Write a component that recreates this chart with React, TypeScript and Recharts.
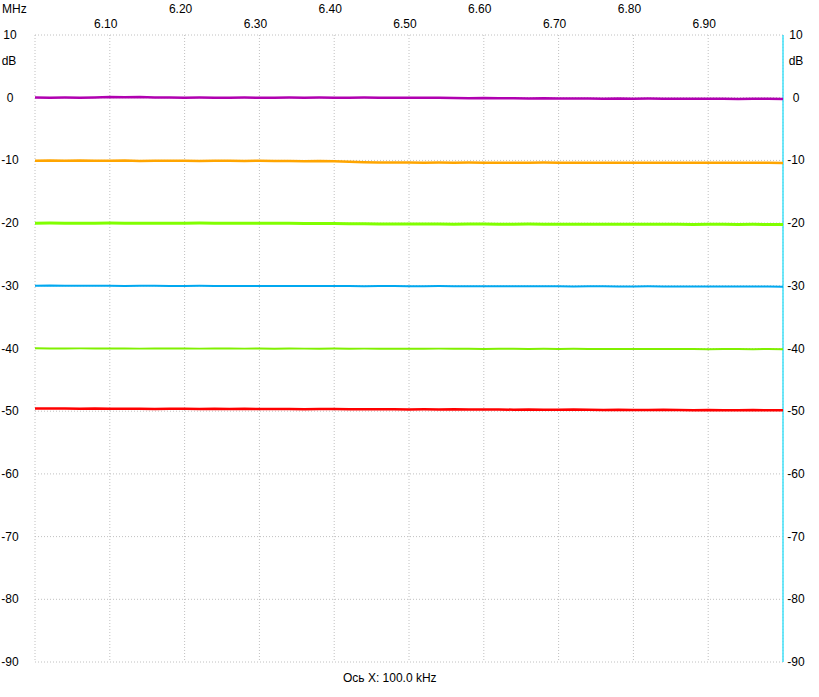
import React from "react"
import { LineChart, Line, XAxis, YAxis, CartesianGrid, ReferenceLine, Customized } from "recharts"

// frequency points, MHz
const FREQS = [
  6.00, 6.02, 6.04, 6.06, 6.08, 6.10, 6.12, 6.14, 6.16, 6.18,
  6.20, 6.22, 6.24, 6.26, 6.28, 6.30, 6.32, 6.34, 6.36, 6.38,
  6.40, 6.42, 6.44, 6.46, 6.48, 6.50, 6.52, 6.54, 6.56, 6.58,
  6.60, 6.62, 6.64, 6.66, 6.68, 6.70, 6.72, 6.74, 6.76, 6.78,
  6.80, 6.82, 6.84, 6.86, 6.88, 6.90, 6.92, 6.94, 6.96, 6.98, 7.00,
]

const TRACE_0 = [
  0.02, 0.0, 0.03, 0.01, 0.05, 0.12, 0.08, 0.1, 0.04, 0.02,
  0.0, 0.03, 0.01, 0.0, 0.02, 0.0, 0.01, 0.03, 0.0, 0.02,
  0.01, 0.0, 0.02, 0.0, 0.01, 0.0, -0.02, 0.0, -0.05, -0.08,
  -0.06, -0.1, -0.07, -0.12, -0.1, -0.14, -0.11, -0.13, -0.15, -0.12,
  -0.16, -0.14, -0.17, -0.15, -0.18, -0.16, -0.17, -0.19, -0.17, -0.18, -0.2,
]

const TRACE_10 = [
  -10.05, -10.0, -10.06, -10.02, -10.07, -10.04, -10.03, -10.08, -10.05, -10.06,
  -10.04, -10.08, -10.05, -10.07, -10.09, -10.06, -10.1, -10.08, -10.12, -10.1,
  -10.15, -10.2, -10.28, -10.33, -10.35, -10.34, -10.36, -10.35, -10.37, -10.35,
  -10.36, -10.38, -10.36, -10.37, -10.35, -10.38, -10.36, -10.37, -10.39, -10.37,
  -10.36, -10.38, -10.37, -10.39, -10.38, -10.36, -10.38, -10.39, -10.37, -10.38, -10.4,
]

const TRACE_20 = [
  -20.02, -20.0, -20.03, -20.01, -20.02, -20.0, -20.03, -20.02, -20.01, -20.03,
  -20.02, -20.0, -20.02, -20.03, -20.01, -20.02, -20.04, -20.03, -20.05, -20.06,
  -20.08, -20.1, -20.12, -20.14, -20.15, -20.13, -20.16, -20.15, -20.17, -20.16,
  -20.15, -20.17, -20.18, -20.16, -20.17, -20.18, -20.19, -20.17, -20.18, -20.2,
  -20.18, -20.19, -20.2, -20.19, -20.21, -20.2, -20.19, -20.21, -20.2, -20.22, -20.21,
]

const TRACE_30 = [
  -29.98, -29.95, -29.99, -30.0, -30.01, -30.0, -30.02, -30.01, -30.0, -30.03,
  -30.02, -30.01, -30.03, -30.02, -30.04, -30.03, -30.02, -30.04, -30.05, -30.03,
  -30.04, -30.05, -30.06, -30.04, -30.05, -30.07, -30.06, -30.05, -30.07, -30.08,
  -30.06, -30.07, -30.09, -30.08, -30.07, -30.09, -30.1, -30.08, -30.09, -30.1,
  -30.11, -30.09, -30.1, -30.12, -30.11, -30.1, -30.12, -30.11, -30.13, -30.12, -30.14,
]

const TRACE_40 = [
  -39.97, -39.99, -40.0, -39.98, -40.01, -39.99, -40.0, -40.02, -39.99, -40.01,
  -40.0, -40.02, -40.01, -39.99, -40.02, -40.01, -40.03, -40.0, -40.02, -40.03,
  -40.01, -40.04, -40.02, -40.03, -40.05, -40.03, -40.04, -40.02, -40.05, -40.04,
  -40.06, -40.04, -40.05, -40.07, -40.05, -40.06, -40.04, -40.07, -40.06, -40.08,
  -40.06, -40.07, -40.09, -40.07, -40.08, -40.1, -40.08, -40.09, -40.1, -40.08, -40.1,
]

const TRACE_50 = [
  -49.56, -49.58, -49.55, -49.6, -49.57, -49.62, -49.59, -49.6, -49.63, -49.6,
  -49.62, -49.65, -49.61, -49.64, -49.62, -49.66, -49.63, -49.65, -49.68, -49.64,
  -49.66, -49.69, -49.67, -49.7, -49.68, -49.71, -49.69, -49.72, -49.7, -49.74,
  -49.71, -49.73, -49.76, -49.72, -49.75, -49.78, -49.74, -49.77, -49.8, -49.76,
  -49.79, -49.82, -49.78, -49.81, -49.84, -49.8, -49.83, -49.86, -49.82, -49.85, -49.84,
]

const X_TICKS = [6.0, 6.1, 6.2, 6.3, 6.4, 6.5, 6.6, 6.7, 6.8, 6.9, 7.0]
const Y_TICKS = [10, 0, -10, -20, -30, -40, -50, -60, -70, -80, -90]

const SERIES = [
  { key: "s0", values: TRACE_0, color: "#b000b0", width: 2.5 },
  { key: "s10", values: TRACE_10, color: "#ffa500", width: 2.5 },
  { key: "s20", values: TRACE_20, color: "#80ff00", width: 3 },
  { key: "s30", values: TRACE_30, color: "#00a8f0", width: 2 },
  { key: "s40", values: TRACE_40, color: "#80f000", width: 2 },
  { key: "s50", values: TRACE_50, color: "#ff0000", width: 2.5 },
]

const data = FREQS.map((f, i) => {
  const row: Record<string, number> = { f }
  SERIES.forEach(s => { row[s.key] = s.values[i] })
  return row
})

const FONT = "'Liberation Sans', Arial, sans-serif"

const FreqTick = (props: any) => {
  const { x, index, payload } = props
  if (index === 0 || index === X_TICKS.length - 1) return null
  const upper = index % 2 === 0
  return (
    <text x={x - 4} y={upper ? 13 : 28} textAnchor="middle" fontSize={12} fontFamily={FONT} fill="#000">
      {payload.value.toFixed(2)}
    </text>
  )
}

// dB labels are drawn on both sides of the plot
const DbTick = (props: any) => {
  const { y, payload } = props
  return (
    <g fontSize={12} fontFamily={FONT} fill="#000">
      <text x={10} y={y + 4} textAnchor="middle">{payload.value}</text>
      <text x={796} y={y + 4} textAnchor="middle">{payload.value}</text>
    </g>
  )
}

const Labels = () => (
  <g fontSize={12} fontFamily={FONT} fill="#000">
    <text x={2} y={13}>MHz</text>
    <text x={9} y={65} textAnchor="middle">dB</text>
    <text x={796} y={65} textAnchor="middle">dB</text>
    <text x={343} y={682}>Ось X: 100.0 kHz</text>
  </g>
)

export default function App() {
  return (
    <div style={{ position: "absolute", left: 0, top: 0, width: 819, height: 697, background: "#fff" }}>
      <LineChart width={819} height={697} data={data} margin={{ top: 0, right: 36, bottom: 35, left: 0 }}>
        <CartesianGrid stroke="#c0c0c0" strokeDasharray="1 2" />
        <XAxis
          dataKey="f"
          type="number"
          orientation="top"
          height={35}
          domain={[6.0, 7.0]}
          ticks={X_TICKS}
          axisLine={false}
          tickLine={false}
          tick={<FreqTick />}
          interval={0}
        />
        <YAxis
          type="number"
          width={35}
          domain={[-90, 10]}
          ticks={Y_TICKS}
          axisLine={false}
          tickLine={false}
          tick={<DbTick />}
          interval={0}
          allowDataOverflow
        />
        <ReferenceLine x={7.0} stroke="#40e0f8" strokeWidth={1.5} />
        {SERIES.map(s => (
          <Line
            key={s.key}
            dataKey={s.key}
            stroke={s.color}
            strokeWidth={s.width}
            dot={false}
            type="linear"
            isAnimationActive={false}
          />
        ))}
        <Customized component={Labels} />
      </LineChart>
    </div>
  )
}
